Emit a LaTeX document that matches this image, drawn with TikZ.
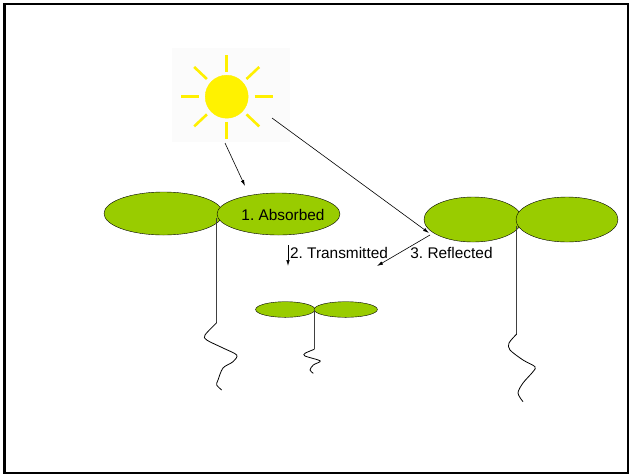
\documentclass[tikz,border=0pt]{standalone}
\usepackage{fontspec}
\setmainfont{Liberation Sans}
\usetikzlibrary{shapes.geometric,arrows.meta}

\tikzset{
  leaf/.style={ellipse, draw, fill=leafgreen, inner sep=0pt},
  ray/.style={draw=sunyellow, line width=2.6pt},
  light/.style={-{Latex[length=6pt,width=3.5pt]}, line width=.6pt},
  stem/.style={draw=black!75, line width=1.1pt},
  root/.style={line width=.8pt},
  lbl/.style={font=\fontsize{15.4}{18}\selectfont, inner sep=0pt}
}
\definecolor{leafgreen}{RGB}{153,204,0}
\definecolor{sunyellow}{RGB}{255,240,0}
\frenchspacing

\begin{document}
\begin{tikzpicture}[x=1pt, y=-1pt]
  \useasboundingbox (0,0) rectangle (629,475);
  \draw[line width=2.5pt] (4.5,4) rectangle (628,473);

  % sun
  \fill[black!1.5] (172,48) rectangle (290,142);
  \foreach \a in {0,45,...,315}
    \draw[ray] ({226.7+28*cos(\a)},{96.7-25*sin(\a)}) -- ({226.7+46*cos(\a)},{96.7-42*sin(\a)});
  \node[circle, fill=yellow, draw=sunyellow, minimum size=43pt, inner sep=0pt] (sun) at (226.7,96.7) {};

  % big plant on the left
  \node[leaf, minimum width=119pt, minimum height=43pt] (leftleaf) at (163.5,213.5) {};
  \node[leaf, minimum width=123pt, minimum height=42pt] (absorbleaf) at (278.5,214) {};
  \node[lbl] (absorbed) at (283,215) {1. Absorbed};
  \draw[stem] (216.7,218) -- (216.7,323);
  \draw[root] plot[smooth] coordinates {(216.7,322.7) (205,335) (206.7,340) (223,348)
    (236.7,355) (233,361.7) (223,368) (218,380) (216.7,385) (221.7,390)};

  % big plant on the right
  \node[leaf, minimum width=98pt, minimum height=45pt] (reflectleaf) at (473,219.5) {};
  \node[leaf, minimum width=102pt, minimum height=45pt] (rightleaf) at (567,219.5) {};
  \draw[stem] (516.7,226) -- (516.7,334);
  \draw[root] plot[smooth] coordinates {(516.7,334) (509,343) (510,350) (523,360)
    (535,366.7) (533,371.7) (523,383) (518,393) (523,401.7)};

  % small plant in the shade
  \node[leaf, minimum width=59.4pt, minimum height=15.6pt] (smallleft) at (285.3,309.5) {};
  \node[leaf, minimum width=63.4pt, minimum height=15.6pt] (smallright) at (345.7,309.5) {};
  \draw[stem] (314.3,310) -- (314.3,349.3);
  \draw[root] plot[smooth] coordinates {(314.3,349.3) (305,353.3) (305,356) (318.3,360)
    (320,361.7) (313.3,365) (310,370) (313.3,373.3)};

  % light paths
  \coordinate (beamA) at (225,143);
  \coordinate (hitA) at (245,186);
  \coordinate (beamB) at (272,118);
  \coordinate (hitB) at (429,233);
  \coordinate (bounce) at (430,235);
  \coordinate (outB) at (377,266);
  \coordinate (thruA) at (288,245);
  \coordinate (thruB) at (288,266);
  \draw[light] (beamA) -- (hitA);
  \draw[light] (beamB) -- (hitB);
  \draw[light] (bounce) -- (outB);
  \draw[light] (thruA) -- (thruB);
  \node[lbl] (transmitted) at (339,253) {2. Transmitted};
  \node[lbl] (reflected) at (451.5,253) {3. Reflected};
\end{tikzpicture}
\end{document}
